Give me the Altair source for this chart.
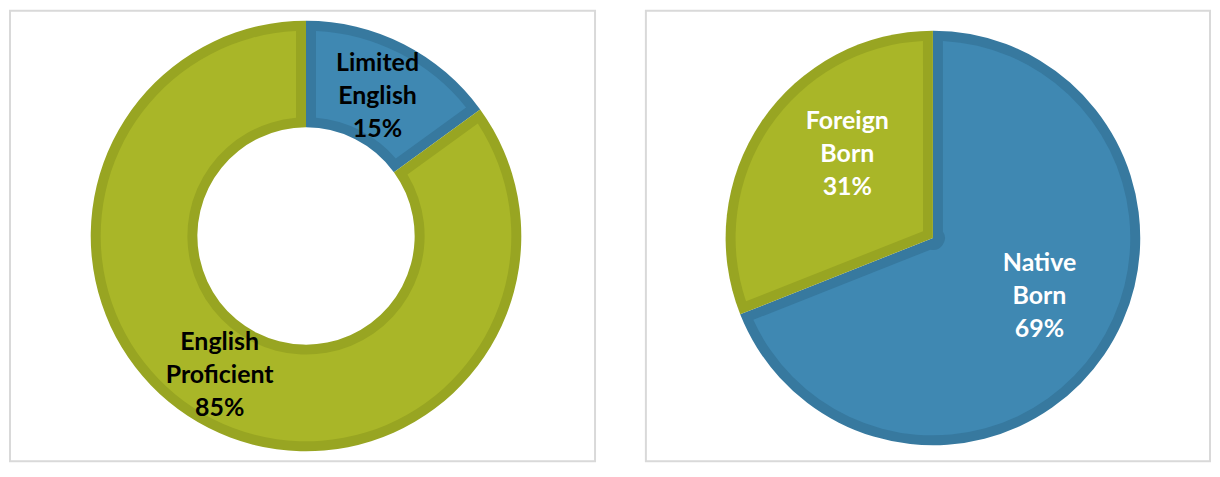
import math
import altair as alt
import pandas as pd

# ---- data ----
left_labels = ["Limited English", "English Proficient"]
left_values = [15, 85]
right_labels = ["Native Born", "Foreign Born"]
right_values = [69, 31]

BLUE, BLUE_D = "#3f88b2", "#37799f"
GREEN, GREEN_D = "#a9b628", "#98a522"
LINE_H = 33


def frame(labels, values, fills, edges, tcolor):
    return pd.DataFrame({
        "label": labels,
        "value": values,
        "order": list(range(len(labels))),
        "fill": fills,
        "edge": edges,
        "text": [l.replace(" ", "\n") + f"\n{v}%" for l, v in zip(labels, values)],
        "tcolor": [tcolor] * len(labels),
    })


left_df = frame(left_labels, left_values, [BLUE, GREEN], [BLUE_D, GREEN_D], "#000000")
right_df = frame(right_labels, right_values, [BLUE, GREEN], [BLUE_D, GREEN_D], "#ffffff")


def panel(df, cx, cy, r_out, r_in, band, label_specs, W, H):
    base = alt.Chart(df)
    theta = alt.Theta("value:Q", stack=True)
    dark = base.mark_arc(radius=r_out, radius2=r_in).encode(
        theta=theta,
        order=alt.Order("order:Q"),
        color=alt.Color("edge:N", scale=None),
        x=alt.value(cx), y=alt.value(cy),
    )
    ri = r_in + band if r_in > 0 else 12
    pr = math.hypot(r_out - band, ri)
    light = base.mark_arc(radius=r_out - band, radius2=ri, padAngle=2 * band / pr).encode(
        theta=theta,
        order=alt.Order("order:Q"),
        color=alt.Color("fill:N", scale=None),
        x=alt.value(cx), y=alt.value(cy),
    )
    layers = [dark, light]
    for lab, r, dx, dy in label_specs:
        t = (
            base.transform_window(cum="sum(value)", sort=[alt.SortField("order")])
            .transform_calculate(mid="datum.cum - datum.value / 2")
            .transform_filter(alt.datum.label == lab)
            .mark_text(radius=r, dx=dx, dy=dy - LINE_H, lineBreak="\n", font="Lato",
                       fontSize=25, fontWeight="bold", lineHeight=LINE_H,
                       align="center", baseline="middle")
            .encode(
                theta=alt.Theta("mid:Q", scale=alt.Scale(domain=[0, 100], range=[0, 2 * math.pi])),
                text="text:N",
                color=alt.Color("tcolor:N", scale=None),
                x=alt.value(cx), y=alt.value(cy),
            )
        )
        layers.append(t)
    return alt.layer(*layers).resolve_scale(theta="independent").properties(width=W, height=H)


left = panel(left_df, 297, 226, 216, 109, 10,
             [("Limited English", 158, 0, 0), ("English Proficient", 160, -14, -3)],
             587, 452)
right = panel(right_df, 288, 228, 208, 0, 10,
              [("Native Born", 122, 6, -10), ("Foreign Born", 122, 15, -16)],
              566, 452)

chart = (
    alt.hconcat(left, right, spacing=49)
    .properties(padding={"left": 1, "top": 1, "right": 1, "bottom": 1})
    .configure_view(stroke="#d9d9d9", strokeWidth=2)
)

chart.save("out.html", embed_options={"renderer": "svg", "actions": False})
